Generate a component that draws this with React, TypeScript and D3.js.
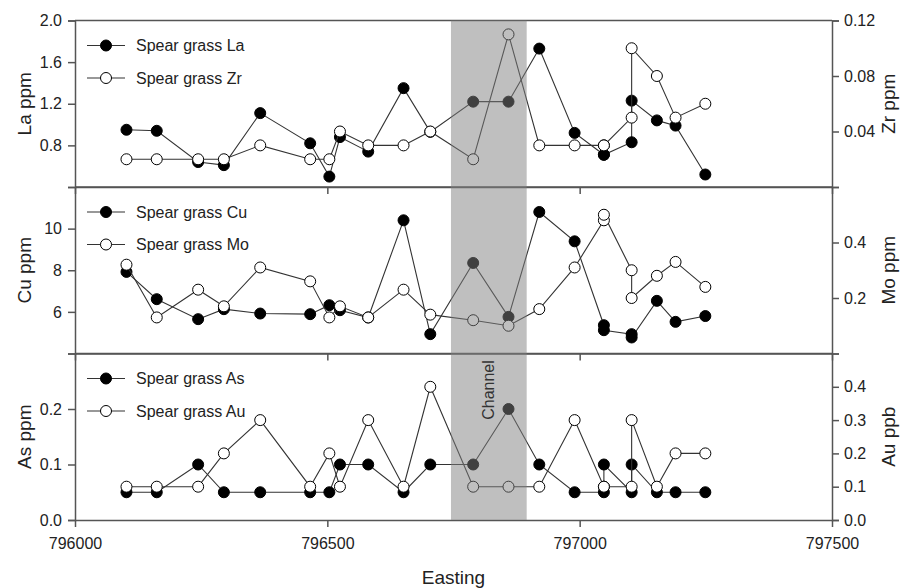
import React, { useEffect, useRef } from 'react'
import * as d3 from 'd3'

// sample positions (two samples at some stations)
const easting = [
  796102, 796162, 796244, 796295, 796367, 796466, 796504, 796525, 796581, 796651, 796704,
  796789, 796859, 796920, 796990, 797048, 797048, 797103, 797103, 797153, 797190, 797249,
]

const la = [0.95, 0.94, 0.64, 0.61, 1.11, 0.82, 0.5, 0.88, 0.74, 1.35, 0.93, 1.22, 1.22, 1.73, 0.92, 0.71, 0.71, 0.83, 1.23, 1.04, 0.99, 0.52]
const zr = [0.02, 0.02, 0.02, 0.02, 0.03, 0.02, 0.02, 0.04, 0.03, 0.03, 0.04, 0.02, 0.11, 0.03, 0.03, 0.03, 0.03, 0.05, 0.1, 0.08, 0.05, 0.06]
const cu = [7.92, 6.61, 5.65, 6.13, 5.92, 5.89, 6.32, 6.08, 5.73, 10.4, 4.93, 8.35, 5.76, 10.8, 9.39, 5.36, 5.12, 4.93, 4.77, 6.53, 5.52, 5.8]
const mo = [0.32, 0.13, 0.23, 0.17, 0.31, 0.26, 0.13, 0.17, 0.13, 0.23, 0.14, 0.12, 0.1, 0.16, 0.31, 0.48, 0.5, 0.3, 0.2, 0.28, 0.33, 0.24]
const as = [0.05, 0.05, 0.1, 0.05, 0.05, 0.05, 0.05, 0.1, 0.1, 0.05, 0.1, 0.1, 0.2, 0.1, 0.05, 0.05, 0.1, 0.05, 0.1, 0.05, 0.05, 0.05]
const au = [0.1, 0.1, 0.1, 0.2, 0.3, 0.1, 0.2, 0.1, 0.3, 0.1, 0.4, 0.1, 0.1, 0.1, 0.3, 0.1, 0.1, 0.1, 0.3, 0.1, 0.2, 0.2]

const xTicks = [796000, 796500, 797000, 797500]
const channel = [796745, 796895]

const laTicks = [0.8, 1.2, 1.6, 2.0]
const zrTicks = [0.04, 0.08, 0.12]
const cuTicks = [6, 8, 10]
const moTicks = [0.2, 0.4]
const asTicks = [0.0, 0.1, 0.2]
const auTicks = [0.0, 0.1, 0.2, 0.3, 0.4]

const panels = [
  { filled: la, open: zr, fName: 'La', oName: 'Zr', lLabel: 'La ppm', rLabel: 'Zr ppm', lDom: [0.4, 2.0], rDom: [0, 0.12], lTicks: laTicks, rTicks: zrTicks, lFmt: '.1f', rFmt: '.2f' },
  { filled: cu, open: mo, fName: 'Cu', oName: 'Mo', lLabel: 'Cu ppm', rLabel: 'Mo ppm', lDom: [4, 12], rDom: [0, 0.6], lTicks: cuTicks, rTicks: moTicks, lFmt: 'd', rFmt: '.1f' },
  { filled: as, open: au, fName: 'As', oName: 'Au', lLabel: 'As ppm', rLabel: 'Au ppb', lDom: [0, 0.3], rDom: [0, 0.5], lTicks: asTicks, rTicks: auTicks, lFmt: '.1f', rFmt: '.1f' },
]

const width = 904
const height = 588
const plotLeft = 75
const plotRight = 832
const panelTop = 20.5
const panelH = 166.5
const font = '"Liberation Sans", Arial, sans-serif'

const App = () => {
  const svgRef = useRef<SVGSVGElement>(null)

  useEffect(() => {
    const svg = d3.select(svgRef.current)
    svg.selectAll('*').remove()

    const x = d3.scaleLinear().domain([796000, 797500]).range([plotLeft, plotRight])

    const styleAxis = (g) => {
      g.attr('font-size', 16).attr('font-family', font)
      g.selectAll('path, line').attr('stroke', '#555').attr('stroke-width', 1.5)
      g.selectAll('text').attr('fill', '#222')
    }

    panels.forEach((p, i) => {
      const top = panelTop + i * panelH
      const bottom = top + panelH
      const mid = (top + bottom) / 2
      const yL = d3.scaleLinear().domain(p.lDom).range([bottom, top])
      const yR = d3.scaleLinear().domain(p.rDom).range([bottom, top])
      const g = svg.append('g')

      // frame top
      g.append('line')
        .attr('x1', plotLeft).attr('x2', plotRight)
        .attr('y1', top).attr('y2', top)
        .attr('stroke', '#555').attr('stroke-width', 1.5)

      g.append('g')
        .attr('transform', `translate(0,${bottom})`)
        .call(
          d3.axisBottom(x).tickValues(xTicks).tickSize(7).tickSizeOuter(0).tickPadding(11)
            .tickFormat(i === 2 ? d3.format('d') : () => '')
        )
        .call(styleAxis)

      g.append('g')
        .attr('transform', `translate(${plotLeft},0)`)
        .call(d3.axisLeft(yL).tickValues(p.lTicks).tickSize(7).tickPadding(6).tickFormat(d3.format(p.lFmt)))
        .call(styleAxis)

      g.append('g')
        .attr('transform', `translate(${plotRight},0)`)
        .call(d3.axisRight(yR).tickValues(p.rTicks).tickSize(7).tickPadding(5).tickFormat(d3.format(p.rFmt)))
        .call(styleAxis)

      // axis titles
      g.append('text')
        .attr('transform', `translate(24,${mid}) rotate(-90)`)
        .attr('text-anchor', 'middle').attr('dominant-baseline', 'central')
        .attr('font-size', 19).attr('font-family', font).attr('fill', '#222')
        .text(p.lLabel)
      g.append('text')
        .attr('transform', `translate(888,${mid}) rotate(-90)`)
        .attr('text-anchor', 'middle').attr('dominant-baseline', 'central')
        .attr('font-size', 19).attr('font-family', font).attr('fill', '#222')
        .text(p.rLabel)

      // series: filled first, open on top
      const series = [
        { vals: p.filled, y: yL, fill: '#000' },
        { vals: p.open, y: yR, fill: '#fff' },
      ]
      series.forEach((s) => {
        const line = d3.line<number>().x((d, j) => x(easting[j])).y((d) => s.y(d))
        g.append('path')
          .datum(s.vals)
          .attr('d', line)
          .attr('fill', 'none').attr('stroke', '#333').attr('stroke-width', 1.1)
        g.append('g')
          .selectAll('circle')
          .data(s.vals)
          .join('circle')
          .attr('cx', (d, j) => x(easting[j]))
          .attr('cy', (d) => s.y(d))
          .attr('r', 5.5)
          .attr('fill', s.fill).attr('stroke', '#000').attr('stroke-width', 1)
      })

      // legend
      const leg = [
        { name: `Spear grass ${p.fName}`, fill: '#000' },
        { name: `Spear grass ${p.oName}`, fill: '#fff' },
      ]
      leg.forEach((l, k) => {
        const ly = top + 25 + k * 32.5
        g.append('line').attr('x1', 87).attr('x2', 125).attr('y1', ly).attr('y2', ly)
          .attr('stroke', '#333').attr('stroke-width', 1.1)
        g.append('circle').attr('cx', 106).attr('cy', ly).attr('r', 5.5)
          .attr('fill', l.fill).attr('stroke', '#000')
        g.append('text').attr('x', 136).attr('y', ly)
          .attr('dominant-baseline', 'central')
          .attr('font-size', 16).attr('font-family', font).attr('fill', '#222')
          .text(l.name)
      })
    })

    // channel band over everything
    svg.append('rect')
      .attr('x', x(channel[0]))
      .attr('width', x(channel[1]) - x(channel[0]))
      .attr('y', panelTop)
      .attr('height', panelH * 3)
      .attr('fill', '#808080').attr('fill-opacity', 0.5)

    svg.append('text')
      .attr('transform', `translate(${(x(channel[0]) + x(channel[1])) / 2},390) rotate(-90)`)
      .attr('text-anchor', 'middle').attr('dominant-baseline', 'central')
      .attr('font-size', 16).attr('font-family', font).attr('fill', '#333')
      .text('Channel')

    svg.append('text')
      .attr('x', (plotLeft + plotRight) / 2).attr('y', 577)
      .attr('text-anchor', 'middle').attr('dominant-baseline', 'central')
      .attr('font-size', 19).attr('font-family', font).attr('fill', '#222')
      .text('Easting')
  }, [])

  return (
    <svg
      ref={svgRef}
      width={width}
      height={height}
      style={{ position: 'absolute', left: 0, top: 0, background: '#fff' }}
    ></svg>
  )
}

export default App
